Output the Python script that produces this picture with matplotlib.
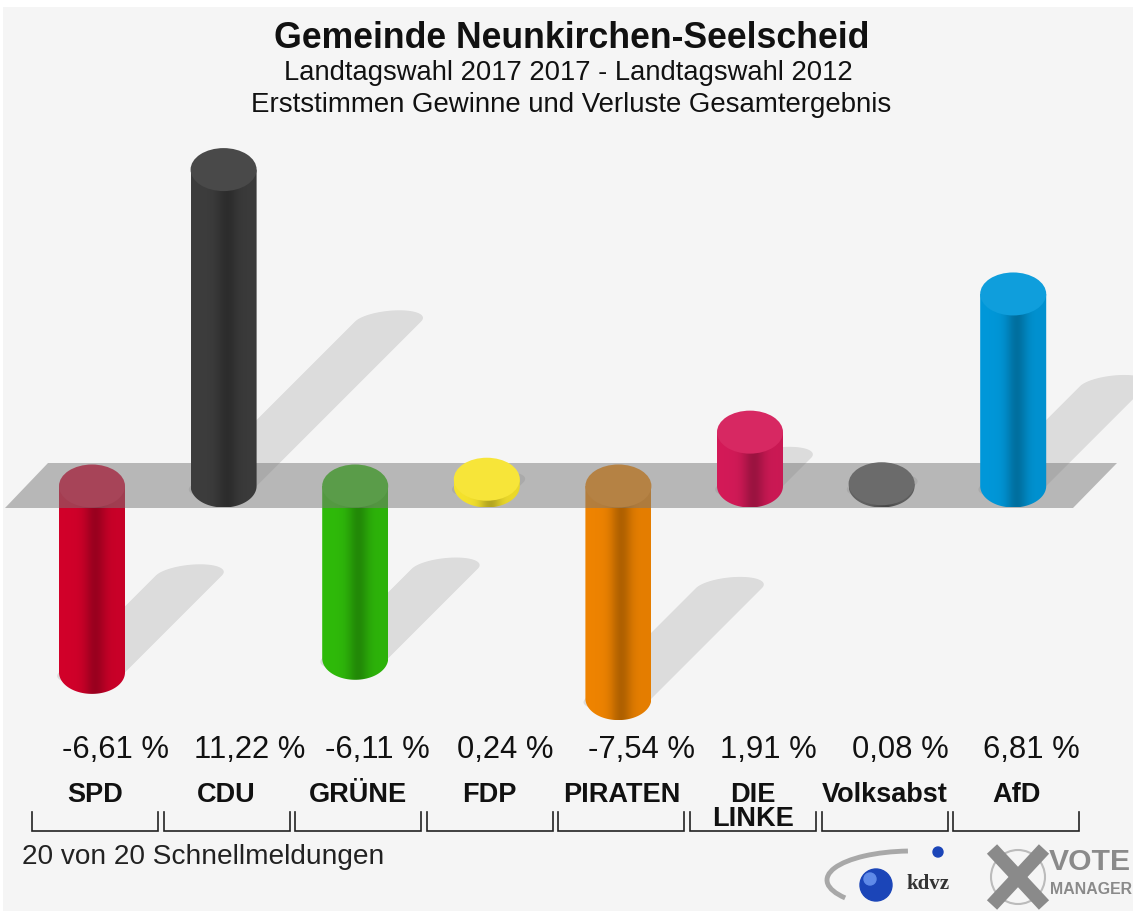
import matplotlib
matplotlib.use('Agg')
import matplotlib.pyplot as plt
import numpy as np
from matplotlib.patches import Polygon, Ellipse, PathPatch, Circle, Rectangle, Arc
from matplotlib.path import Path
import matplotlib.colors as mcolors

# ---------------- data ----------------
parties = ['SPD', 'CDU', 'GRÜNE', 'FDP', 'PIRATEN', 'DIE\nLINKE', 'Volksabst', 'AfD']
values = [-6.61, 11.22, -6.11, 0.24, -7.54, 1.91, 0.08, 6.81]
value_labels = ['-6,61 %', '11,22 %', '-6,11 %', '0,24 %', '-7,54 %', '1,91 %', '0,08 %', '6,81 %']
colors = ['#d2002a', '#3d3d3d', '#2fbb0a', '#f6e32c', '#f08400', '#d41a58', '#626262', '#0098da']
title_lines = ['Gemeinde Neunkirchen-Seelscheid',
               'Landtagswahl 2017 2017 - Landtagswahl 2012',
               'Erststimmen Gewinne und Verluste Gesamtergebnis']
footer = '20 von 20 Schnellmeldungen'

# ---------------- layout ----------------
W, H = 1133, 911
X0, DX = 92.0, 131.6      # px of first bar, px per category
Y0, PY = 486.0, 28.2      # px of zero line, px per percent
FONT = 'Liberation Sans'

fig = plt.figure(figsize=(W / 100, H / 100), dpi=100, facecolor='white')
fig.patches.append(Rectangle((3 / W, 0), 1, 1 - 7 / H, transform=fig.transFigure,
                             facecolor='#f5f5f5', edgecolor='none', zorder=-10))

ax = fig.add_axes([0, 0, 1, 1])
ax.set_facecolor('none')
ax.axis('off')
XMIN, XMAX = -X0 / DX, (W - X0) / DX
YMIN, YMAX = -(H - Y0) / PY, Y0 / PY


def px2d(px, py):
    return ((px - X0) / DX, (Y0 - py) / PY)


hw = 33.0 / DX          # half bar width (data units)
eh = 21.5 / PY          # half ellipse height (data units)
K = 0.52                # shadow length factor
SH = PY / DX            # 45 degree shear in data units


def lighten(c, a):
    r = np.array(mcolors.to_rgb(c))
    return tuple(r + (1 - r) * a)


for i, (v, c) in enumerate(zip(values, colors)):
    x = i
    top, bot = max(v, 0), min(v, 0)
    z = 4 if v > 0 else 2

    # ---- shadow ----
    up = np.linspace(np.pi, 0, 40)
    dn = np.linspace(0, -np.pi, 40)
    sx = np.concatenate([x + hw * np.cos(up), x + hw * np.cos(dn)])
    sy = np.concatenate([top + eh * np.sin(up), bot + eh * np.sin(dn)])
    base = bot
    s = sy - base
    shx = sx + K * s * SH
    shy = base + K * s
    ax.add_patch(Polygon(np.column_stack([shx, shy]), closed=True,
                         facecolor='black', alpha=0.10, edgecolor='none', zorder=1))

    # ---- body with horizontal gradient ----
    arc = np.linspace(np.pi, 2 * np.pi, 50)
    verts = [(x - hw, top), (x - hw, bot)] + \
            [(x + hw * np.cos(a), bot + eh * np.sin(a)) for a in arc] + \
            [(x + hw, top), (x - hw, top)]
    codes = [Path.MOVETO] + [Path.LINETO] * (len(verts) - 2) + [Path.CLOSEPOLY]
    body = PathPatch(Path(verts, codes), facecolor='none', edgecolor='none',
                     transform=ax.transData)
    ax.add_patch(body)
    t = np.linspace(0, 1, 80)
    f = 1 - 0.24 * np.exp(-((t - 0.55) / 0.16) ** 2) - 0.05 * t
    rgb = np.array(mcolors.to_rgb(c))
    img = (rgb[None, None, :] * f[None, :, None]).clip(0, 1)
    im = ax.imshow(img, extent=(x - hw, x + hw, bot - eh, top), aspect='auto',
                   interpolation='bilinear', zorder=z)
    im.set_clip_path(body)

    # ---- top cap ----
    ax.add_patch(Ellipse((x, top), 2 * hw, 2 * eh, facecolor=lighten(c, 0.06),
                         edgecolor='none', zorder=z + 0.1))

# ---- grey zero band ----
band = [px2d(5, 508), px2d(48, 463), px2d(1117, 463), px2d(1073, 508)]
ax.add_patch(Polygon(band, closed=True, facecolor='#7a7a7a', alpha=0.5,
                     edgecolor='none', zorder=3))

ax.set_xlim(XMIN, XMAX)
ax.set_ylim(YMIN, YMAX)

# ---------------- overlay in pixel coords ----------------
ov = fig.add_axes([0, 0, 1, 1])
ov.set_xlim(0, W)
ov.set_ylim(H, 0)
ov.axis('off')
ov.set_facecolor('none')

renderer = fig.canvas.get_renderer()


def fit(txt, target):
    w = txt.get_window_extent(renderer).width
    txt.set_fontsize(txt.get_fontsize() * target / w)


t1 = ov.text(572, 38, title_lines[0], ha='center', va='center', family=FONT,
             fontweight='bold', fontsize=20, color='#111111')
fit(t1, 597)
t2 = ov.text(568, 73, title_lines[1], ha='center', va='center', family=FONT,
             fontsize=16, color='#111111')
fit(t2, 569)
t3 = ov.text(571, 105, title_lines[2], ha='center', va='center', family=FONT,
             fontsize=16, color='#111111')
fit(t3, 643)

# value labels
ref = ov.text(0, 0, value_labels[1], family=FONT, fontsize=16)
fit(ref, 112)
vfs = ref.get_fontsize()
ref.remove()
for i, lab in enumerate(value_labels):
    ov.text(X0 + i * DX - 30, 750, lab, ha='left', va='center', family=FONT,
            fontsize=vfs, color='#111111')

# party labels
ref = ov.text(0, 0, 'PIRATEN', family=FONT, fontweight='bold', fontsize=14)
fit(ref, 117)
pfs = ref.get_fontsize()
ref.remove()
for i, p in enumerate(parties):
    for j, line in enumerate(p.split('\n')):
        ov.text(X0 + i * DX + 3, 795 + 24 * j, line, ha='center', va='center',
                family=FONT, fontweight='bold', fontsize=pfs, color='#111111')

# brackets
for i in range(len(parties)):
    cx = X0 + i * DX + 3
    l, r = cx - 63, cx + 63
    ov.plot([l, l, r, r], [812, 831, 831, 812], color='#222222', lw=1.2,
            solid_joinstyle='miter')

tf = ov.text(22, 857, footer, ha='left', va='center', family=FONT, fontsize=14,
             color='#222222')
fit(tf, 363)

# ---------------- logo ----------------
ov.add_patch(Arc((912, 880), 170, 58, theta1=165, theta2=262, color='#a8a8a8', lw=3.5))
ov.add_patch(Circle((876, 885), 16, color='#1b45b8'))
ov.add_patch(Circle((870, 879), 6, color='#5f8ae8'))
ov.add_patch(Circle((938, 852), 5, color='#1b45b8'))
ov.text(906, 884, 'kdvz', ha='left', va='center', family='Liberation Serif',
        fontweight='bold', fontsize=15, color='#333333')
ov.add_patch(Circle((1018, 877), 27, facecolor='none', edgecolor='#bbbbbb', lw=1.5))
ov.plot([992, 1044], [849, 905], color='#8a8a8a', lw=10, solid_capstyle='butt')
ov.plot([1044, 992], [849, 905], color='#8a8a8a', lw=10, solid_capstyle='butt')
tv = ov.text(1049, 862, 'VOTE', ha='left', va='center', family=FONT, fontweight='bold',
             fontsize=22, color='#8a8a8a')
fit(tv, 82)
tm = ov.text(1050, 890, 'MANAGER', ha='left', va='center', family=FONT, fontweight='bold',
             fontsize=10, color='#8a8a8a')
fit(tm, 82)

fig.savefig('out.png', dpi=100, facecolor=fig.get_facecolor())
